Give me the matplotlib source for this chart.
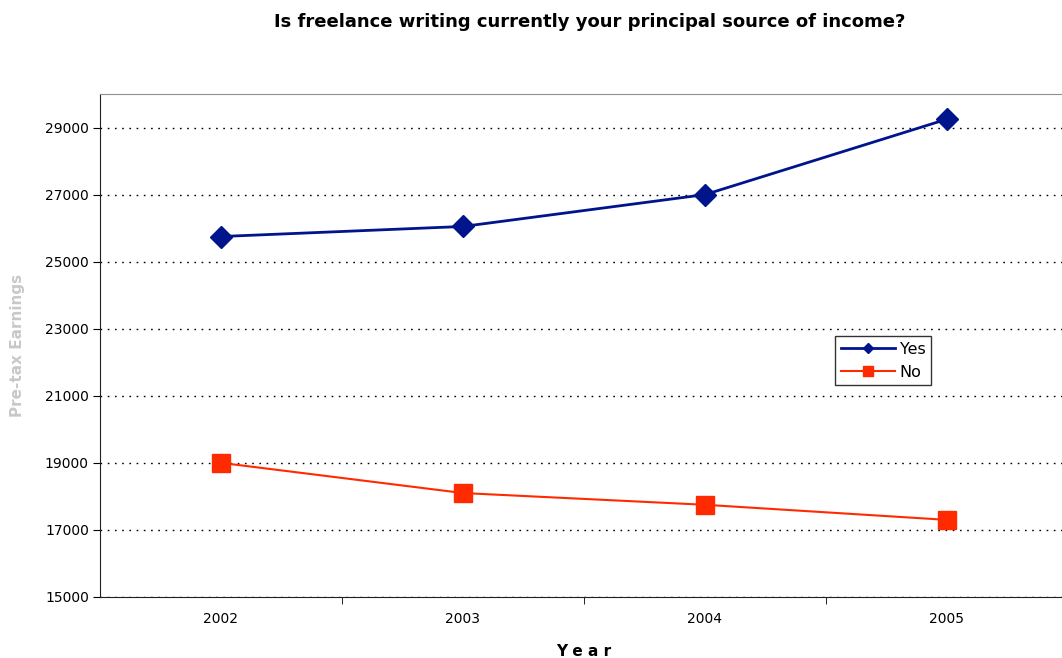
import matplotlib
matplotlib.use('Agg')
import matplotlib.pyplot as plt
from matplotlib.ticker import FixedLocator

years = ['2002', '2003', '2004', '2005']
yes_vals = [25750, 26050, 27000, 29250]
no_vals = [19000, 18100, 17750, 17300]
yticks = [15000, 17000, 19000, 21000, 23000, 25000, 27000, 29000]

fig = plt.figure(figsize=(10.62, 6.58), dpi=100)
ax = fig.add_axes([100 / 1062, 61 / 658, 968 / 1062, 503 / 658])

x = range(len(years))
ax.plot(x, yes_vals, color='#00148c', lw=2, marker='D', ms=11, label='Yes')
ax.plot(x, no_vals, color='#ff2a00', lw=1.5, marker='s', ms=13, mfc='#ff2a00', mec='#ff2a00', label='No')

ax.set_xlim(-0.5, 3.5)
ax.set_ylim(15000, 30000)
ax.set_xticks(list(x))
ax.set_xticklabels(years)
ax.xaxis.set_minor_locator(FixedLocator([0.5, 1.5, 2.5]))
ax.tick_params(axis='x', which='major', length=0, pad=11, labelsize=10)
ax.tick_params(axis='x', which='minor', length=5, direction='out')
ax.set_yticks(yticks)
ax.tick_params(axis='y', length=5, direction='out', labelsize=10, pad=3)
ax.yaxis.grid(True, linestyle=(0, (1.2, 4)), color='black', lw=1)

ax.spines['top'].set_color('#909090')
ax.spines['right'].set_visible(False)
ax.spines['left'].set_color('#202020')
ax.spines['bottom'].set_color('#202020')

ax.set_xlabel('Y e a r', fontsize=11, fontweight='bold', labelpad=13)
ax.set_ylabel('Pre-tax Earnings', fontsize=11, fontweight='bold', color='#c8c8c8', labelpad=14)

fig.text(590 / 1062, 1 - 22 / 658, 'Is freelance writing currently your principal source of income?',
         ha='center', va='center', fontsize=13, fontweight='bold')

leg = ax.legend(loc='upper left', bbox_to_anchor=(735 / 968, 1 - 242 / 503), frameon=True,
                fancybox=False, edgecolor='black', fontsize=11.5, markerscale=0.5,
                handlelength=3.4, borderpad=0.35, labelspacing=0.5, handletextpad=0.3,
                borderaxespad=0)
leg.get_frame().set_linewidth(1)

fig.savefig('out.png', dpi=100)
